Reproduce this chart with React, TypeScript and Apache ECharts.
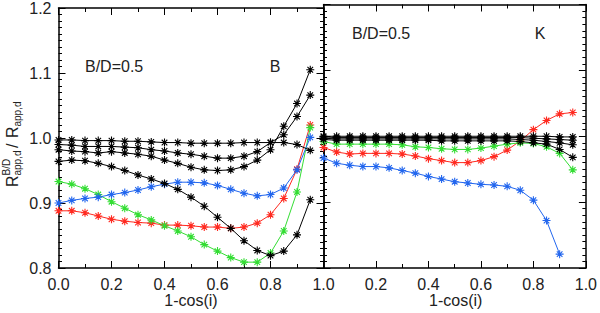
import React, { useEffect, useRef } from "react";
import * as echarts from "echarts";

const xs = [0, 0.05, 0.1, 0.15, 0.2, 0.25, 0.3, 0.35, 0.4, 0.45, 0.5, 0.55, 0.6, 0.65, 0.7, 0.75, 0.8, 0.85, 0.9, 0.95];
const xTicks = ["0.0", "0.2", "0.4", "0.6", "0.8", "1.0"];
const yTicks = ["0.8", "0.9", "1.0", "1.1", "1.2"];

// Left panel (B band)
const bBlack1 = [0.997, 0.997, 0.996, 0.996, 0.996, 0.995, 0.995, 0.994, 0.993, 0.993, 0.992, 0.992, 0.992, 0.992, 0.993, 0.993, 0.993, 0.993, 0.990, 0.981];
const bBlack2 = [0.990, 0.989, 0.987, 0.987, 0.987, 0.986, 0.985, 0.982, 0.980, 0.977, 0.975, 0.972, 0.969, 0.969, 0.972, 0.979, 0.993, 1.005, 1.033, 1.066];
const bBlack3 = [0.982, 0.980, 0.979, 0.977, 0.979, 0.977, 0.975, 0.972, 0.966, 0.961, 0.955, 0.951, 0.950, 0.951, 0.956, 0.966, 0.982, 1.018, 1.053, 1.105];
const bBlack4 = [0.964, 0.966, 0.965, 0.961, 0.956, 0.950, 0.943, 0.937, 0.930, 0.921, 0.909, 0.895, 0.878, 0.861, 0.842, 0.827, 0.819, 0.826, 0.851, 0.905];
const bBlue = [0.900, 0.904, 0.907, 0.909, 0.913, 0.916, 0.920, 0.925, 0.929, 0.932, 0.932, 0.931, 0.927, 0.921, 0.915, 0.911, 0.913, 0.923, 0.951, 1.001];
const bRed = [0.888, 0.888, 0.885, 0.880, 0.875, 0.872, 0.870, 0.869, 0.866, 0.866, 0.865, 0.863, 0.863, 0.861, 0.863, 0.869, 0.882, 0.907, 0.952, 1.020];
const bGreen = [0.933, 0.929, 0.922, 0.913, 0.902, 0.892, 0.882, 0.874, 0.865, 0.857, 0.848, 0.836, 0.826, 0.816, 0.809, 0.809, 0.823, 0.857, 0.917, 1.016];

// Right panel (K band)
const kBlack1 = [1.000, 1.000, 1.000, 1.000, 1.000, 1.000, 1.000, 1.000, 1.000, 1.000, 1.000, 1.000, 1.000, 1.000, 1.000, 1.000, 1.000, 1.000, 0.999, 0.999];
const kBlack2 = [0.999, 0.998, 0.998, 0.998, 0.998, 0.998, 0.998, 0.998, 0.998, 0.998, 0.998, 0.998, 0.998, 0.998, 0.998, 0.998, 0.997, 0.996, 0.995, 0.994];
const kBlack3 = [0.997, 0.996, 0.996, 0.996, 0.996, 0.996, 0.996, 0.996, 0.996, 0.996, 0.996, 0.996, 0.996, 0.996, 0.996, 0.995, 0.994, 0.992, 0.990, 0.987];
const kBlack4 = [0.995, 0.994, 0.994, 0.994, 0.994, 0.994, 0.994, 0.994, 0.994, 0.993, 0.993, 0.993, 0.993, 0.993, 0.993, 0.992, 0.990, 0.988, 0.980, 0.968];
const kBlue = [0.967, 0.959, 0.956, 0.954, 0.954, 0.952, 0.948, 0.944, 0.939, 0.935, 0.931, 0.929, 0.927, 0.926, 0.924, 0.918, 0.903, 0.872, 0.821];
const kRed = [0.983, 0.976, 0.973, 0.974, 0.974, 0.974, 0.973, 0.970, 0.966, 0.963, 0.960, 0.960, 0.963, 0.969, 0.979, 0.993, 1.010, 1.024, 1.034, 1.036];
const kGreen = [0.992, 0.988, 0.988, 0.988, 0.988, 0.988, 0.987, 0.984, 0.983, 0.981, 0.980, 0.980, 0.982, 0.985, 0.988, 0.990, 0.989, 0.984, 0.974, 0.949];

const BLACK = "#000000";
const BLUE = "#2266ee";
const RED = "#ff2a20";
const GREEN = "#33dd33";

const STAR = "path://M4,0L4,8M0,4L8,4M1.2,1.2L6.8,6.8M1.2,6.8L6.8,1.2";
const FONT = "Liberation Sans";

export default function App() {
  const ref = useRef<HTMLDivElement>(null);

  useEffect(() => {
    if (!ref.current) return;
    const chart = echarts.init(ref.current, null, { renderer: "svg" });

    const L = 58.5, M = 323.5, R = 588, T = 4.5, B = 268;

    const mkSeries = (vals: number[], color: string, idx: number) => ({
      type: "line",
      xAxisIndex: idx,
      yAxisIndex: idx,
      data: vals.map((v, i) => [xs[i], v]),
      symbol: STAR,
      symbolSize: 8,
      showSymbol: true,
      lineStyle: { color, width: 1 },
      itemStyle: { color: "none", borderColor: color, borderWidth: 1.1 },
      emphasis: { disabled: true },
      z: color === BLACK ? 3 : 2,
    });

    const axisLine = { show: true, onZero: false, lineStyle: { color: "#000", width: 1.5 } };

    const xBase = (grid: number, pos: "bottom" | "top", showLabels: boolean, hideZero: boolean) => ({
      type: "value",
      gridIndex: grid,
      position: pos,
      min: 0,
      max: 1,
      interval: 0.2,
      axisLine,
      axisTick: { show: true, inside: true, length: 7, lineStyle: { color: "#000", width: 1 } },
      minorTick: { show: true, splitNumber: 2, length: 4, lineStyle: { color: "#000", width: 1 } },
      splitLine: { show: false },
      axisLabel: {
        show: showLabels,
        margin: 8,
        fontFamily: FONT,
        fontSize: 16,
        color: "#222",
        showMinLabel: !hideZero,
        formatter: (v: number) => {
          const s = xTicks[Math.round(v / 0.2)];
          if (hideZero && v === 0) return "";
          return s;
        },
      },
    });

    const yBase = (grid: number, pos: "left" | "right", showLabels: boolean) => ({
      type: "value",
      gridIndex: grid,
      position: pos,
      min: 0.8,
      max: 1.2,
      interval: 0.1,
      axisLine,
      axisTick: { show: true, inside: true, length: 7, lineStyle: { color: "#000", width: 1 } },
      minorTick: { show: true, splitNumber: 10, length: 3.5, lineStyle: { color: "#000", width: 1 } },
      splitLine: { show: false },
      axisLabel: {
        show: showLabels,
        margin: 7,
        fontFamily: FONT,
        fontSize: 16,
        color: "#222",
        formatter: (v: number) => yTicks[Math.round((v - 0.8) / 0.1)],
      },
    });

    const option: any = {
      animation: false,
      backgroundColor: "#fff",
      grid: [
        { left: L, top: T, width: M - L, height: B - T },
        { left: M, top: T, width: R - M, height: B - T },
      ],
      xAxis: [
        xBase(0, "bottom", true, false),
        xBase(1, "bottom", true, true),
        xBase(0, "top", false, false),
        xBase(1, "top", false, false),
      ],
      yAxis: [
        yBase(0, "left", true),
        yBase(1, "left", false),
        yBase(0, "right", false),
        yBase(1, "right", false),
      ],
      series: [
        mkSeries(bRed, RED, 0),
        mkSeries(bGreen, GREEN, 0),
        mkSeries(bBlue, BLUE, 0),
        mkSeries(bBlack1, BLACK, 0),
        mkSeries(bBlack2, BLACK, 0),
        mkSeries(bBlack3, BLACK, 0),
        mkSeries(bBlack4, BLACK, 0),
        mkSeries(kBlue, BLUE, 1),
        mkSeries(kRed, RED, 1),
        mkSeries(kGreen, GREEN, 1),
        mkSeries(kBlack1, BLACK, 1),
        mkSeries(kBlack2, BLACK, 1),
        mkSeries(kBlack3, BLACK, 1),
        mkSeries(kBlack4, BLACK, 1),
      ],
      graphic: [
        { type: "text", x: 85, y: 66, style: { text: "B/D=0.5", font: `16px '${FONT}'`, fill: "#222", verticalAlign: "middle" } },
        { type: "text", x: 275, y: 66, style: { text: "B", font: `16px '${FONT}'`, fill: "#222", align: "center", verticalAlign: "middle" } },
        { type: "text", x: 352, y: 33, style: { text: "B/D=0.5", font: `16px '${FONT}'`, fill: "#222", verticalAlign: "middle" } },
        { type: "text", x: 540, y: 33, style: { text: "K", font: `16px '${FONT}'`, fill: "#222", align: "center", verticalAlign: "middle" } },
        { type: "text", x: (L + M) / 2, y: 300, style: { text: "1-cos(i)", font: `16px '${FONT}'`, fill: "#222", align: "center", verticalAlign: "middle" } },
        { type: "text", x: (M + R) / 2, y: 300, style: { text: "1-cos(i)", font: `16px '${FONT}'`, fill: "#222", align: "center", verticalAlign: "middle" } },
        {
          type: "group",
          x: 12,
          y: 145,
          rotation: Math.PI / 2,
          children: [
            { type: "text", x: -42, y: 0, style: { text: "R", font: `16px '${FONT}'`, fill: "#222", verticalAlign: "middle" } },
            { type: "text", x: -30.5, y: -6, style: { text: "B/D", font: `10px '${FONT}'`, fill: "#222", verticalAlign: "middle" } },
            { type: "text", x: -30.5, y: 5.5, style: { text: "app,d", font: `10px '${FONT}'`, fill: "#222", verticalAlign: "middle" } },
            { type: "text", x: -3, y: 0, style: { text: "/", font: `16px '${FONT}'`, fill: "#222", verticalAlign: "middle" } },
            { type: "text", x: 7, y: 0, style: { text: "R", font: `16px '${FONT}'`, fill: "#222", verticalAlign: "middle" } },
            { type: "text", x: 18.5, y: 5.5, style: { text: "app,d", font: `10px '${FONT}'`, fill: "#222", verticalAlign: "middle" } },
          ],
        },
      ],
    };

    chart.setOption(option);
    return () => chart.dispose();
  }, []);

  return (
    <div
      ref={ref}
      style={{ position: "fixed", left: 0, top: 0, width: 600, height: 313, background: "#fff" }}
    />
  );
}
